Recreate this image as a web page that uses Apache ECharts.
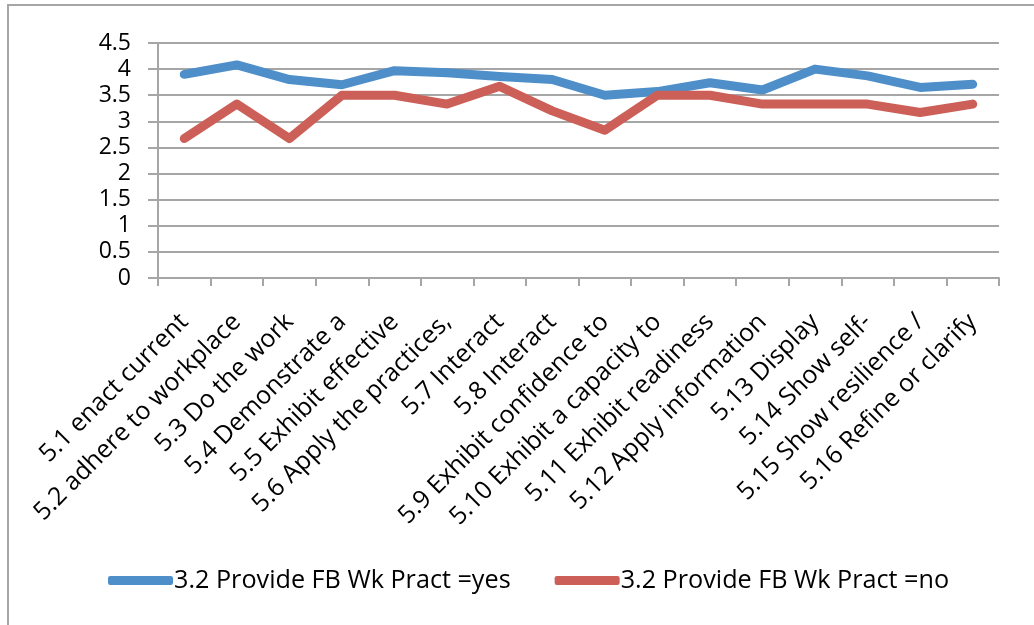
<!DOCTYPE html>
<html>
<head>
<meta charset="utf-8">
<script src="https://cdn.jsdelivr.net/npm/echarts@6/dist/echarts.min.js"></script>
<style>
  html, body { margin: 0; padding: 0; background: #fff; }
  #chart { width: 1034px; height: 625px; }
</style>
</head>
<body>
<div id="chart"></div>
<script>
const categories = [
  '5.1 enact current', '5.2 adhere to workplace', '5.3 Do the work', '5.4 Demonstrate a',
  '5.5 Exhibit effective', '5.6 Apply the practices,', '5.7 Interact', '5.8 Interact',
  '5.9 Exhibit confidence to', '5.10 Exhibit a capacity to', '5.11 Exhibit readiness',
  '5.12 Apply information', '5.13 Display', '5.14 Show self-', '5.15 Show resilience /',
  '5.16 Refine or clarify'
]
const yesValues = [3.9, 4.08, 3.8, 3.7, 3.97, 3.93, 3.86, 3.8, 3.5, 3.57, 3.74, 3.6, 4.0, 3.87, 3.65, 3.71]
const noValues = [2.67, 3.33, 2.67, 3.5, 3.5, 3.33, 3.67, 3.2, 2.83, 3.5, 3.5, 3.33, 3.33, 3.33, 3.17, 3.33]
const seriesNames = ['3.2 Provide FB Wk Pract =yes', '3.2 Provide FB Wk Pract =no']

const font = 'Open Sans'
const chart = echarts.init(document.getElementById('chart'))
chart.setOption({
  animation: false,
  color: ['#4F8FC9', '#CC5F57'],
  graphic: [{
    type: 'rect',
    shape: { x: 8, y: 5, width: 1100, height: 700 },
    style: { fill: 'none', stroke: '#A6A6A6', lineWidth: 2 }
  }],
  grid: { left: 158, right: 35, top: 43, bottom: 347 },
  legend: {
    bottom: 27,
    left: 103,
    itemWidth: 65,
    itemHeight: 9,
    itemGap: 44,
    icon: 'roundRect',
    textStyle: { fontFamily: font, fontSize: 25.2, color: '#000', padding: [0, 0, 0, -4] },
    data: seriesNames
  },
  xAxis: {
    type: 'category',
    data: categories,
    boundaryGap: true,
    axisLine: { lineStyle: { color: '#A6A6A6', width: 2 } },
    axisTick: { show: true, length: 8, interval: 0, lineStyle: { color: '#A6A6A6', width: 2 } },
    axisLabel: {
      interval: 0,
      rotate: 45,
      margin: 40,
      fontFamily: font,
      fontSize: 25,
      color: '#000'
    }
  },
  yAxis: {
    type: 'value',
    min: 0,
    max: 4.5,
    interval: 0.5,
    axisLine: { show: true, lineStyle: { color: '#A6A6A6', width: 2 } },
    axisTick: { show: true, length: 10, lineStyle: { color: '#A6A6A6', width: 2 } },
    splitLine: { lineStyle: { color: '#A6A6A6', width: 2 } },
    axisLabel: {
      margin: 27,
      fontFamily: font,
      fontSize: 23,
      color: '#000'
    }
  },
  series: [
    {
      name: seriesNames[0],
      type: 'line',
      data: yesValues,
      symbol: 'none',
      lineStyle: { width: 9, cap: 'round', join: 'round' }
    },
    {
      name: seriesNames[1],
      type: 'line',
      data: noValues,
      symbol: 'none',
      lineStyle: { width: 9, cap: 'round', join: 'round' }
    }
  ]
})
</script>
</body>
</html>
